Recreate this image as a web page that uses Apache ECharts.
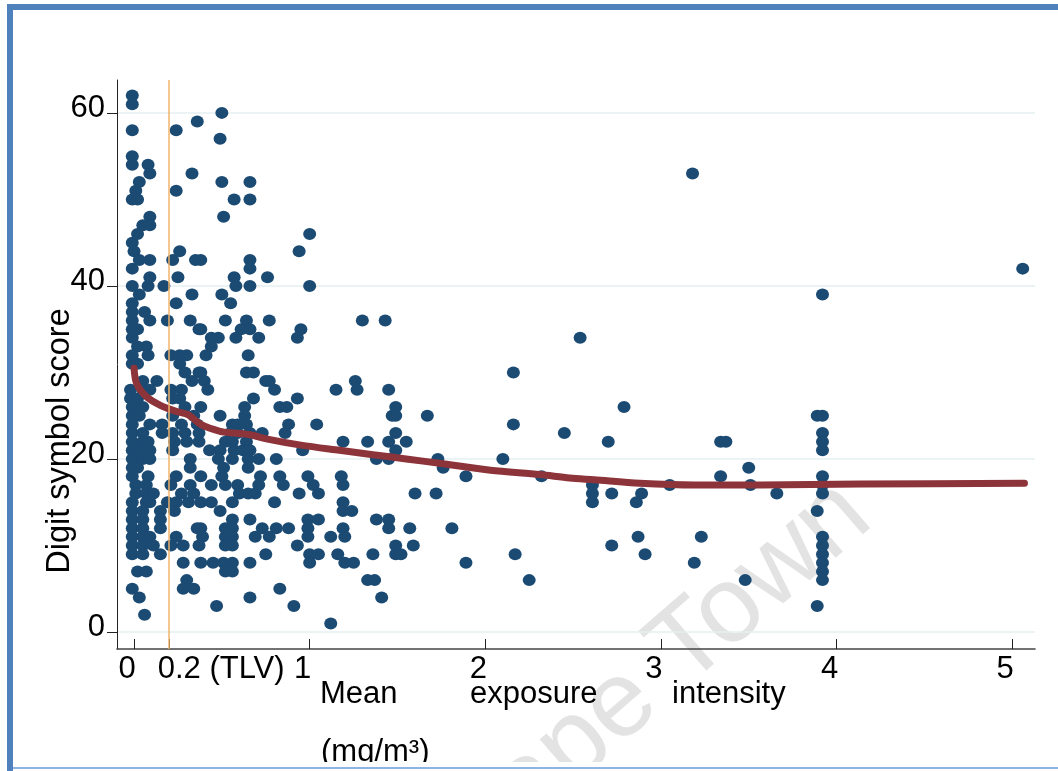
<!DOCTYPE html>
<html>
<head>
<meta charset="utf-8">
<script src="https://cdn.jsdelivr.net/npm/echarts@6/dist/echarts.min.js"></script>
<style>
  html, body { margin: 0; padding: 0; background: #fff; }
  #wrap { position: relative; width: 1058px; height: 771px; overflow: hidden; }
  #chart { position: absolute; left: 0; top: 0; width: 1058px; height: 771px; }
  #frame { position: absolute; left: 7px; top: 4px; width: 1051px; height: 767px;
           border-left: 6px solid #4f81bd; border-top: 6px solid #4f81bd; box-sizing: border-box; pointer-events: none; }
  #clip { position: absolute; left: 13px; top: 762px; width: 1045px; height: 9px; background: #fff; pointer-events: none; }
  #bottomline { position: absolute; left: 13px; top: 767px; width: 1045px; height: 2px; background: #8db4e2; pointer-events: none; }
</style>
</head>
<body>
<div id="wrap">
  <div id="chart"></div>
  <div id="clip"></div>
  <div id="bottomline"></div>
  <div id="frame"></div>
</div>
<script>
// ---- data: [mean exposure intensity (mg/m3), digit symbol score] ----
const upperCloud = [
  [-0.01,62],[-0.01,61],[-0.01,58],[0.24,58],[0.36,59],[0.50,60],[0.49,57],
  [-0.01,55],[-0.01,54],[0.08,54],[0.09,53],[0.03,52],[0.01,51],[-0.01,50],[0.02,50],
  [0.33,53],[0.24,51],[0.50,52],[0.66,52],[0.57,50],[0.66,50],[0.51,48],
  [0.09,48],[0.05,47],[0.09,47],[0.02,46],[-0.01,45],[0.00,44],[-0.01,42],
  [0.03,43],[0.09,43],[0.22,43],[0.26,44],[0.35,43],[0.66,43],[0.66,42],[0.94,44],[1.00,46],
  [-0.01,40],[0.03,39],[0.08,40],[0.09,41],[0.17,40],[0.25,41],
  [0.33,39],[0.50,39],[0.55,38],[0.57,41],[0.58,40],[0.66,40],[0.76,41],[1.00,40],
  [-0.01,37],[0.06,37],[0.09,36],[0.19,36],[0.24,38],[-0.01,38],[-0.01,36],
  [-0.01,35],[-0.01,34],[0.02,35],[0.07,33],[0.02,33],
  [0.32,36],[0.37,35],[0.38,43]
];
const midCloud = [
  [0.52,36],[0.64,36],[0.77,36],[0.61,35],[0.66,35],[0.38,35],[0.95,35],[0.93,34],
  [0.44,34],[0.48,34],[0.58,34],[0.71,34],[0.44,33],[0.41,32],[0.65,32],
  [0.38,30],[0.64,30],[0.68,30],[0.75,29],[0.77,29],[0.40,29],[0.42,28],[0.80,28],[1.15,28],
  [0.68,27],[0.93,27],[0.38,26],[0.63,26],[0.83,26],[0.87,26],[0.49,25],[0.63,25],
  [0.56,24],[0.59,24],[0.64,24],[0.88,24],[1.04,24],
  [0.86,23],[0.73,23],[0.55,23],[0.59,23],[0.66,23],
  [1.19,22],[0.52,22],[0.56,22],[0.64,22],
  [0.43,21],[0.49,21],[0.57,21],[0.62,21],[0.66,21],[0.96,21],
  [0.48,20],[0.56,20],[0.65,20],[0.71,20],[0.81,20],
  [0.51,19],[0.65,19],
  [0.38,18],[0.50,18],[0.72,18],[0.83,18],[0.99,18],[1.18,18],
  [0.44,17],[0.52,17],[0.59,17],[0.71,17],[0.85,17],[1.02,17],[1.19,17],
  [0.60,16],[0.65,16],[0.69,16],[0.94,16],[1.05,16],
  [0.38,15],[0.44,15],[0.56,15],[0.80,15],[1.19,15],
  [0.49,14],
  [0.56,13],[0.66,13],[0.99,13],[1.05,13],
  [0.38,12],[0.52,12],[0.56,12],[0.73,12],[0.81,12],[0.88,12],[0.99,12],[1.19,12],
  [0.39,11],[0.52,11],[0.56,11],[0.69,11],[0.77,11],[0.99,11],[1.12,11],
  [0.52,10],[0.56,10],[0.93,10],
  [0.75,9],[1.00,9],[1.05,9],[1.16,9],
  [0.38,8],[0.45,8],[0.51,8],[0.56,8],[0.66,8],[1.00,8],[1.20,8],
  [0.52,7],[0.56,7],
  [0.83,5],[0.66,4],[0.47,3],[0.91,3],[1.12,1]
];
const rightCloud = [
  [1.30,36],[1.43,36],[2.16,30],[1.26,29],[1.27,28],[1.45,28],[1.49,26],[1.47,25],[1.49,25],[1.67,25],[2.16,24],[2.45,23],
  [1.33,22],[1.45,22],[1.55,22],[1.49,23],[1.49,21],[1.38,20],[1.45,20],[1.73,20],[1.76,19],[2.10,20],[1.89,18],[2.32,18],
  [1.60,16],[1.72,16],[1.24,14],[1.19,14],[1.38,13],[1.45,13],[1.45,12],[1.57,12],[1.81,12],[1.20,11],
  [1.49,10],[1.59,10],[1.49,9],[1.52,9],[1.36,9],[2.17,9],[1.25,8],[1.89,8],[1.33,6],[1.37,6],[2.25,6],[1.41,4]
];
const highExposure = [
  [3.18,53],[3.92,39],[2.54,34],[2.79,26],[2.70,22],[3.34,22],[3.37,22],[3.89,25],[3.92,25],[3.92,23],[3.92,22],[3.92,21],
  [3.50,19],[3.34,18],[3.92,18],[3.05,17],[3.51,17],[2.61,17],[2.61,16],[2.61,15],[2.72,16],[2.89,16],[2.86,15],[3.66,16],
  [3.92,17],[3.92,16],[3.89,14],[2.87,11],[2.72,10],[2.91,9],[3.23,11],[3.19,8],[3.48,6],
  [3.92,11],[3.92,10],[3.92,9],[3.92,8],[3.92,7],[3.92,6],[3.89,3],[5.06,42]
];
const nearZero = [
  [-0.01,32],[0.08,32],[0.21,32],[0.26,32],[0.30,32],
  [-0.01,31],[0.02,31],[0.26,31],
  [0.29,30],[0.37,30],
  [0.33,29],[0.05,29],[0.13,29],
  [-0.02,28],[0.05,28],[0.09,28],[0.21,28],[0.27,28],
  [-0.02,27],[0.02,27],[0.22,27],[0.26,27],
  [-0.01,26],[0.05,26],[0.29,26],
  [-0.01,25],[0.03,25],[0.22,25],[0.34,25],
  [-0.01,24],[0.09,24],[0.16,24],[0.27,24],[0.36,24],
  [-0.01,23],[0.05,23],[0.16,23],[0.22,23],[0.29,23],[0.37,23],
  [-0.01,22],[0.05,22],[0.08,22],[0.23,22],[0.30,22],[0.37,22],
  [-0.01,21],[0.03,21],[0.09,21],[0.22,21],
  [-0.01,20],[0.05,20],[0.09,20],[0.32,20],
  [-0.01,19],[0.02,19],[0.32,19],
  [-0.01,18],[0.08,18],[0.24,18],
  [0.01,17],[0.07,17],[0.21,17],[0.32,17],
  [0.01,16],[0.07,16],[0.11,16],[0.27,16],[0.34,16],
  [-0.01,15],[0.07,15],[0.09,15],[0.19,15],[0.24,15],[0.31,15],
  [-0.01,14],[0.05,14],[0.15,14],[0.23,14],
  [-0.01,13],[0.05,13],[0.15,13],[0.36,12],
  [-0.01,12],[0.05,12],[0.15,12],
  [-0.01,11],[0.05,11],[0.09,11],[0.24,11],
  [-0.01,10],[0.05,10],[0.11,10],[0.21,10],[0.28,10],[0.37,10],
  [-0.01,9],[0.05,9],[0.15,9],
  [0.28,8],
  [0.02,7],[0.07,7],
  [0.30,6],
  [0.28,5],[0.34,5],[-0.01,5],
  [0.03,4],
  [0.06,2]
];
// smoothed (lowess) curve
const lowessX = [0, 0.015, 0.07, 0.15, 0.24, 0.31, 0.38, 0.49, 0.57, 0.66, 0.76, 0.95, 1.17, 1.36, 1.55, 1.74, 2.03, 2.31, 2.48, 2.62, 2.88, 3.19, 3.57, 4.14, 5.07];
const lowessY = [30.5, 28.7, 27.2, 26.2, 25.5, 25.1, 24.0, 23.2, 23.0, 22.8, 22.3, 21.6, 21.0, 20.5, 20.0, 19.5, 18.7, 18.2, 17.8, 17.6, 17.2, 17.0, 17.0, 17.1, 17.2];
// axes
const xTickValues = [0, 0.2, 1, 2, 3, 4, 5];
const yTickValues = [0, 20, 40, 60];
const tlv = 0.2;

const FONT = '"Liberation Sans", Arial, sans-serif';
const points = [].concat(upperCloud, midCloud, rightCloud, highExposure, nearZero);
const lowess = lowessX.map((x, i) => [x, lowessY[i]]);

const chart = echarts.init(document.getElementById('chart'), null, { renderer: 'canvas' });
chart.setOption({
  backgroundColor: '#ffffff',
  animation: false,
  grid: { left: 117, right: 23, top: 80, bottom: 122, containLabel: false, outerBoundsMode: 'none' },
  xAxis: {
    type: 'value', min: -0.097, max: 5.13,
    axisLine: { onZero: false, lineStyle: { color: '#444', width: 1.6 } },
    axisTick: { inside: true, length: 10, customValues: xTickValues, lineStyle: { color: '#222', width: 1 } },
    axisLabel: {
      customValues: xTickValues, fontSize: 31, fontFamily: FONT, color: '#000', margin: 5,
      padding: [0, 14, 0, 0],
      formatter: function (v) { return Math.abs(v - tlv) < 1e-9 ? '{tlv|0.2 (TLV)}' : String(v); },
      rich: { tlv: { fontSize: 31, fontFamily: FONT, color: '#000', padding: [0, 0, 0, 118] } }
    },
    splitLine: { show: false }
  },
  yAxis: {
    type: 'value', min: -1.96, max: 63.8,
    name: 'Digit symbol score', nameLocation: 'middle', nameGap: 40, nameMoveOverlap: false,
    nameTextStyle: { fontSize: 32.5, fontFamily: FONT, color: '#000', padding: [0, 153, 0, 0] },
    axisLine: { show: true, onZero: false, lineStyle: { color: '#222', width: 1 } },
    axisTick: { show: true, length: 10, customValues: yTickValues, lineStyle: { color: '#222', width: 1 } },
    axisLabel: {
      customValues: yTickValues, fontSize: 31, fontFamily: FONT, color: '#000', margin: 12,
      formatter: function (v) { return '{t|' + v + '}'; },
      rich: { t: { fontSize: 31, fontFamily: FONT, color: '#000', padding: [0, 0, 9, 0] } }
    },
    splitLine: { show: true, lineStyle: { color: '#e6eff1', width: 1.5 } }
  },
  graphic: [
    { type: 'text', x: 652, y: 678, rotation: 41 * Math.PI / 180, z: -10, silent: true,
      style: { text: 'Cape Town', font: '108px ' + FONT, fill: '#e3e3e3', align: 'center', verticalAlign: 'middle' } },
    { type: 'text', x: 320, y: 679, silent: true, style: { text: 'Mean', font: '31px ' + FONT, fill: '#000', align: 'left', verticalAlign: 'top' } },
    { type: 'text', x: 470, y: 679, silent: true, style: { text: 'exposure', font: '31px ' + FONT, fill: '#000', align: 'left', verticalAlign: 'top' } },
    { type: 'text', x: 672, y: 679, silent: true, style: { text: 'intensity', font: '31px ' + FONT, fill: '#000', align: 'left', verticalAlign: 'top' } },
    { type: 'text', x: 321, y: 737, silent: true, style: { text: '(mg/m³)', font: '31px ' + FONT, fill: '#000', align: 'left', verticalAlign: 'top' } }
  ],
  series: [
    {
      type: 'line', data: [], z: 1, silent: true,
      markLine: {
        silent: true, symbol: 'none', label: { show: false },
        lineStyle: { color: '#f1b36d', width: 1.5, type: 'solid' },
        data: [{ xAxis: tlv }]
      }
    },
    {
      type: 'scatter', data: points, symbol: 'circle', symbolSize: [13, 12], z: 3,
      itemStyle: { color: '#1b4a73', opacity: 1 }
    },
    {
      type: 'line', data: lowess, smooth: 0.3, showSymbol: false, z: 4,
      lineStyle: { color: '#8d343a', width: 7, cap: 'round', join: 'round' }
    }
  ]
});
</script>
</body>
</html>
